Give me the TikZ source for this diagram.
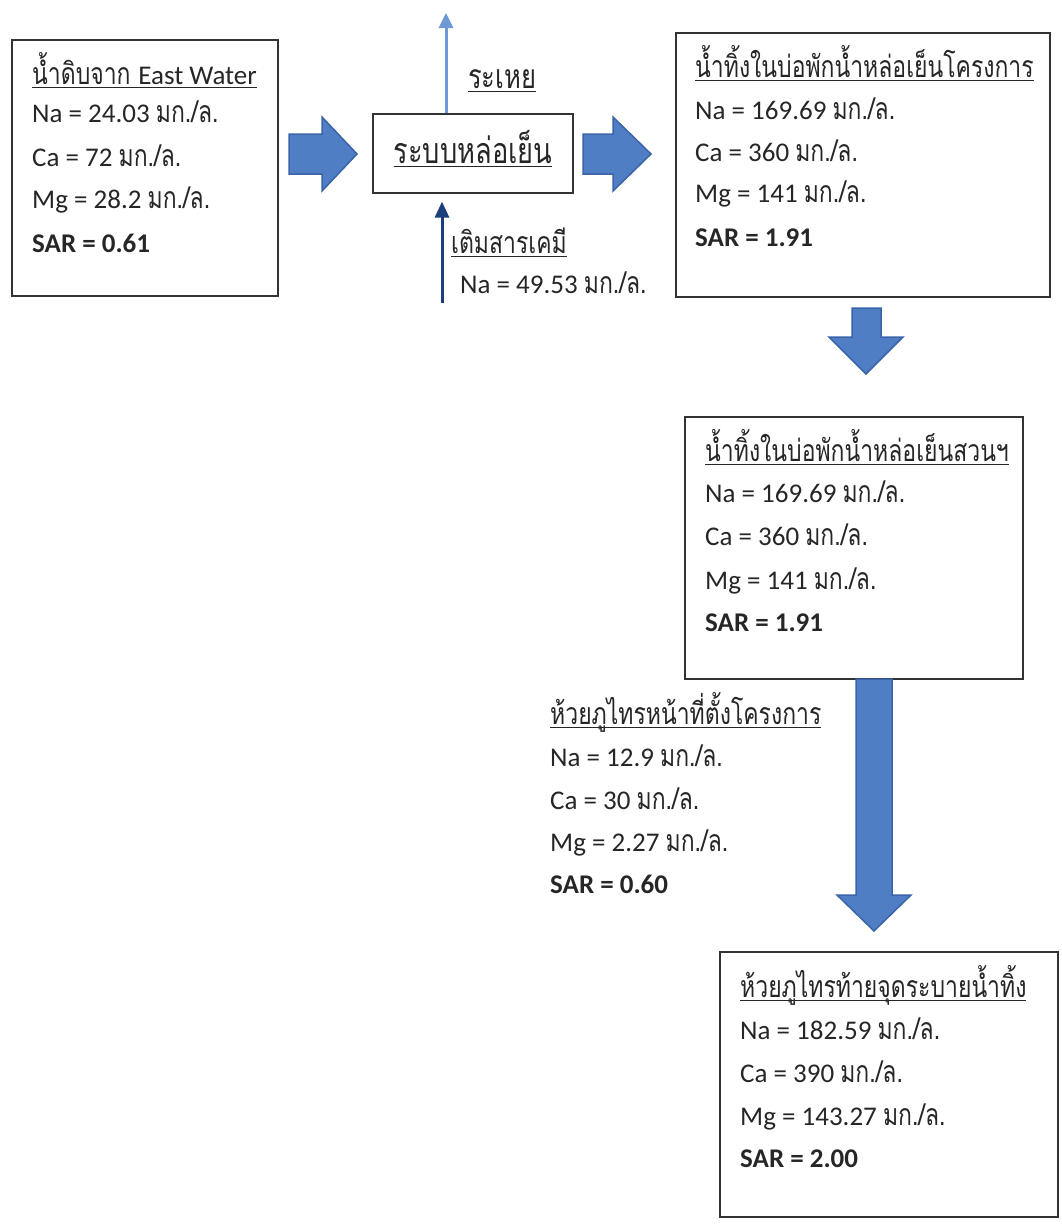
\documentclass[tikz,border=0pt]{standalone}
\usepackage{fontspec}
\setmainfont{Carlito}
\newfontfamily\thai[Script=Thai,Scale=1.12,FakeStretch=0.76]{Loma}
\usetikzlibrary{arrows.meta,calc}
\newcommand\ulbox[1]{\setbox0\hbox{#1}\rlap{\rule[-4pt]{\wd0}{1.1pt}}\box0}
\definecolor{flowfill}{HTML}{4F7EC4}
\definecolor{flowedge}{HTML}{3A64A8}
\definecolor{vapour}{HTML}{6E99D6}
\definecolor{dosing}{HTML}{1B3F7A}
\definecolor{frame}{HTML}{333333}
\tikzset{
  box/.style={draw=frame, line width=1.2pt, inner sep=0pt},
  txt/.style={anchor=base west, inner sep=0pt, font=\fontsize{27}{31}\selectfont, text=black!85},
  ctxt/.style={anchor=base, inner sep=0pt, text=black!85},
  blockarrow/.style={fill=flowfill, draw=flowedge, line width=1.5pt, line join=miter},
}
\begin{document}
\begin{tikzpicture}[x=1pt,y=-1pt]
\useasboundingbox (0,0) rectangle (1061,1226);

% boxes
\node[box, minimum width=266pt, minimum height=256pt] (raw) at (145,168) {};
\node[box, minimum width=200pt, minimum height=79pt] (cool) at (473,153.5) {};
\node[box, minimum width=374pt, minimum height=264pt] (pond) at (863,165) {};
\node[box, minimum width=338pt, minimum height=262pt] (park) at (854,548) {};
\node[box, minimum width=338pt, minimum height=265pt] (creek) at (889,1084.5) {};

% raw water
\node[txt] (rawT) at (32,84) {\ulbox{\thai น้ำดิบจาก {\rmfamily East Water}}};
\node[txt] (rawNa) at (32,122) {Na = 24.03 {\thai มก./ล.}};
\node[txt] (rawCa) at (32,166) {Ca = 72 {\thai มก./ล.}};
\node[txt] (rawMg) at (32,208) {Mg = 28.2 {\thai มก./ล.}};
\node[txt] (rawS) at (32,252) {\bfseries SAR = 0.61};

% cooling system
\node[ctxt, font=\fontsize{32}{36}\selectfont] (coolT) at (473,163) {\ulbox{\thai ระบบหล่อเย็น}};
\node[ctxt, font=\fontsize{30}{34}\selectfont] (evap) at (502,88) {\ulbox{\thai ระเหย}};
\node[txt] (chemT) at (451,253) {\ulbox{\thai เติมสารเคมี}};
\node[txt] (chemNa) at (460,293) {Na = 49.53 {\thai มก./ล.}};
\coordinate (evapEnd) at (446,13);
\coordinate (chemStart) at (442,303);
\draw[vapour, line width=3pt, -{Triangle[length=15pt,width=14pt]}] ($(cool.north)+(-27,0)$) -- (evapEnd);
\draw[dosing, line width=3pt, -{Triangle[length=16pt,width=14pt]}] (chemStart) -- ($(cool.south)+(-31,8)$);

% project pond
\node[txt] (pondT) at (695,77) {\ulbox{\thai น้ำทิ้งในบ่อพักน้ำหล่อเย็นโครงการ}};
\node[txt] (pondNa) at (695,119) {Na = 169.69 {\thai มก./ล.}};
\node[txt] (pondCa) at (695,161) {Ca = 360 {\thai มก./ล.}};
\node[txt] (pondMg) at (695,202) {Mg = 141 {\thai มก./ล.}};
\node[txt] (pondS) at (695,246) {\bfseries SAR = 1.91};

% park pond
\node[txt] (parkT) at (705,461) {\ulbox{\thai น้ำทิ้งในบ่อพักน้ำหล่อเย็นสวนฯ}};
\node[txt] (parkNa) at (705,502) {Na = 169.69 {\thai มก./ล.}};
\node[txt] (parkCa) at (705,545) {Ca = 360 {\thai มก./ล.}};
\node[txt] (parkMg) at (705,589) {Mg = 141 {\thai มก./ล.}};
\node[txt] (parkS) at (705,631) {\bfseries SAR = 1.91};

% creek upstream
\node[txt] (upT) at (550,724) {\ulbox{\thai ห้วยภูไทรหน้าที่ตั้งโครงการ}};
\node[txt] (upNa) at (550,766) {Na = 12.9 {\thai มก./ล.}};
\node[txt] (upCa) at (550,809) {Ca = 30 {\thai มก./ล.}};
\node[txt] (upMg) at (550,851) {Mg = 2.27 {\thai มก./ล.}};
\node[txt] (upS) at (550,893) {\bfseries SAR = 0.60};

% creek downstream
\node[txt] (dnT) at (740,997) {\ulbox{\thai ห้วยภูไทรท้ายจุดระบายน้ำทิ้ง}};
\node[txt] (dnNa) at (740,1039) {Na = 182.59 {\thai มก./ล.}};
\node[txt] (dnCa) at (740,1082) {Ca = 390 {\thai มก./ล.}};
\node[txt] (dnMg) at (740,1125) {Mg = 143.27 {\thai มก./ล.}};
\node[txt] (dnS) at (740,1167) {\bfseries SAR = 2.00};

% block arrows
\path[blockarrow] (289,134) -- (322,134) -- (322,117) -- (357,154) -- (322,191) -- (322,174) -- (289,174) -- cycle;
\path[blockarrow] (583,134) -- (613,134) -- (613,117) -- (651,154) -- (613,191) -- (613,174) -- (583,174) -- cycle;
\path[blockarrow] (852,308) -- (881,308) -- (881,337) -- (903,337) -- (866,374) -- (829,337) -- (852,337) -- cycle;
\path[blockarrow] (856,679) -- (892,679) -- (892,895) -- (911,895) -- (874,931) -- (837,895) -- (856,895) -- cycle;
\end{tikzpicture}
\end{document}
